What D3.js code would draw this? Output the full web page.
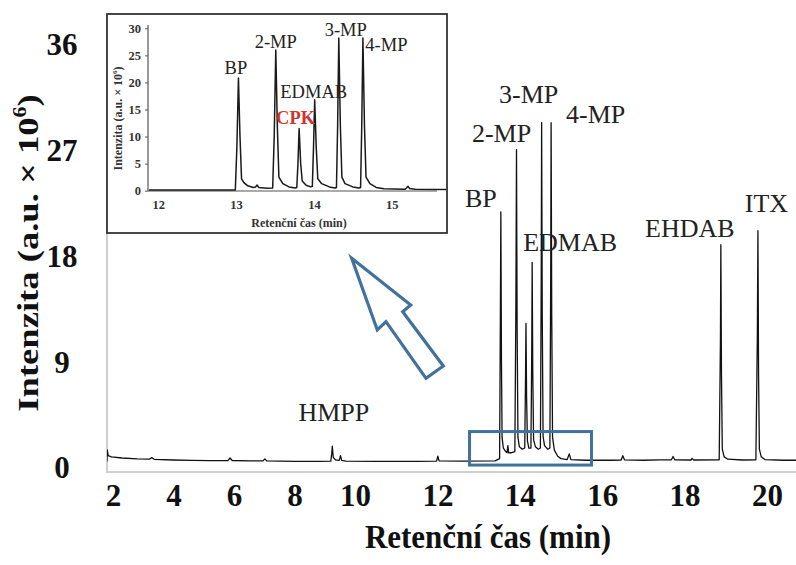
<!DOCTYPE html>
<html>
<head>
<meta charset="utf-8">
<script src="https://cdn.jsdelivr.net/npm/d3@7"></script>
<style>
  html, body { margin: 0; padding: 0; background: #fff; }
  svg { display: block; }
  text { font-family: "Liberation Serif", "Times New Roman", serif; }
</style>
</head>
<body>
<svg id="chart" width="796" height="565"></svg>
<script>
// ---- Full chromatogram: [retention time (min), intensity (a.u. × 10^6)] ----
const mainTrace = [
  [1.80,0.55],[1.81,1.55],[1.84,1.05],[1.95,0.95],[2.3,0.85],[2.8,0.78],[3.2,0.75],[3.28,0.88],[3.36,0.74],
  [4.0,0.68],[4.6,0.65],[5.2,0.62],[5.8,0.62],[5.87,0.85],[5.94,0.64],[6.5,0.6],[6.96,0.6],[7.02,0.78],[7.08,0.6],
  [8.0,0.57],[8.8,0.57],[9.2,0.58],[9.23,1.2],[9.25,1.85],[9.28,0.9],[9.35,0.7],[9.48,0.65],[9.52,1.05],[9.56,0.65],
  [9.7,0.58],[10.5,0.56],[11.5,0.56],[11.98,0.58],[12.01,1.0],[12.04,0.6],[12.6,0.58],[13.4,0.6],
  [13.51,0.8],[13.53,14],[13.54,21.8],[13.555,9],[13.57,2.6],[13.6,1.7],[13.66,1.4],[13.69,1.3],[13.71,1.9],[13.73,1.3],[13.8,1.3],[13.88,1.4],
  [13.905,14],[13.92,27.1],[13.935,12],[13.955,2.6],[13.99,1.8],[14.06,1.6],[14.12,1.7],
  [14.14,8],[14.15,12.3],[14.165,6],[14.185,2.3],[14.22,1.7],[14.27,1.7],
  [14.29,10],[14.30,17.5],[14.315,8],[14.335,2.4],[14.38,1.8],[14.45,1.6],[14.5,1.7],
  [14.52,16],[14.53,29.4],[14.545,13],[14.565,2.7],[14.6,1.9],[14.68,1.6],[14.73,1.7],
  [14.75,16],[14.76,29.4],[14.775,13],[14.795,2.6],[14.84,1.5],[14.92,1.0],[15.0,0.8],[15.15,0.72],[15.2,1.2],[15.24,0.72],
  [15.6,0.66],[16.2,0.66],[16.46,0.68],[16.5,1.05],[16.54,0.7],[17.0,0.66],[17.4,0.7],[17.68,0.7],[17.72,0.98],[17.76,0.7],
  [18.16,0.68],[18.18,0.82],[18.22,0.68],[18.84,0.7],[18.87,11],[18.88,19.0],[18.895,8],[18.915,1.6],[18.96,0.95],[19.05,0.75],
  [19.4,0.68],[19.73,0.7],[19.765,11],[19.78,20.2],[19.795,8],[19.815,1.6],[19.86,0.95],[19.95,0.72],[20.4,0.66],[20.75,0.66]
];

// Named peaks of the full run
const mainPeakNames   = ["HMPP", "BP", "2-MP", "EDMAB", "3-MP", "4-MP", "EHDAB", "ITX"];
const mainPeakTimes   = [9.25, 13.54, 13.92, 14.30, 14.53, 14.76, 18.88, 19.78];
const mainPeakHeights = [1.85, 21.8, 27.1, 17.5, 29.4, 29.4, 19.0, 20.2];

const mainXTicks = [2, 4, 6, 8, 10, 12, 14, 16, 18, 20];
const mainYTicks = [0, 9, 18, 27, 36];

// Window of the run that is enlarged in the inset: [t0, t1] min, [v0, v1] intensity
const zoomTimes = [12.78, 15.74];
const zoomLevels = [0.25, 3.1];

// ---- Enlarged section 12–15.7 min ----
const insetTrace = [
  [11.88,0.12],[12.5,0.12],[12.99,0.15],[13.01,8],[13.03,20.8],[13.05,10],[13.07,2.2],[13.1,1.5],[13.15,0.9],[13.22,0.6],
  [13.25,0.7],[13.27,1.05],[13.29,0.6],[13.4,0.45],
  [13.47,0.5],[13.49,10],[13.51,26.0],[13.53,12],[13.55,2.5],[13.6,1.3],[13.68,0.7],[13.76,0.5],
  [13.78,0.6],[13.795,5],[13.81,11.5],[13.83,5],[13.85,1.8],[13.9,1.0],[13.96,0.7],
  [13.98,0.8],[13.995,8],[14.01,16.8],[14.03,8],[14.05,2.2],[14.1,1.3],[14.2,0.7],[14.27,0.5],
  [14.29,0.6],[14.305,12],[14.32,28.2],[14.34,12],[14.36,2.5],[14.4,1.3],[14.5,0.7],[14.58,0.5],
  [14.6,0.6],[14.615,12],[14.63,28.2],[14.65,12],[14.67,2.5],[14.72,1.3],[14.8,0.6],[14.9,0.35],
  [15.17,0.25],[15.19,0.5],[15.21,0.8],[15.23,0.4],[15.3,0.25],[15.7,0.2]
];

const insetPeakNames   = ["BP", "2-MP", "CPK", "EDMAB", "3-MP", "4-MP"];
const insetPeakTimes   = [13.03, 13.51, 13.81, 14.01, 14.32, 14.63];
const insetPeakHeights = [20.8, 26.0, 11.5, 16.8, 28.2, 28.2];

const insetXTicks = [12, 13, 14, 15];
const insetYTicks = [0, 5, 10, 15, 20, 25, 30];

// ---- Layout ----
const svg = d3.select("#chart");
const frame = { left: 107, right: 796, top: 14, bottom: 472 };

// Time axis is drawn with two linear segments (2–10 and 10–20 min)
const x = d3.scaleLinear().domain([2, 10, 20]).range([113, 355, 767]);
const y = d3.scaleLinear().domain([0, 36]).range([468, 45]);

const axisGray = "#cfcfcf";
const blue = "#41719c";

// frame lines
svg.append("line").attr("x1", frame.left).attr("x2", frame.left)
  .attr("y1", frame.top).attr("y2", frame.bottom + 1)
  .attr("stroke", axisGray).attr("stroke-width", 2);
svg.append("line").attr("x1", frame.left).attr("x2", frame.right)
  .attr("y1", frame.bottom).attr("y2", frame.bottom)
  .attr("stroke", axisGray).attr("stroke-width", 2);

// axes
const xAxis = svg.append("g").attr("transform", `translate(0,${frame.bottom})`)
  .call(d3.axisBottom(x).tickValues(mainXTicks).tickSize(0).tickPadding(12).tickFormat(d3.format("d")));
const yAxis = svg.append("g").attr("transform", `translate(${frame.left},0)`)
  .call(d3.axisLeft(y).tickValues(mainYTicks).tickSize(0).tickFormat(d3.format("d")));
[xAxis, yAxis].forEach(g => {
  g.select(".domain").remove();
  g.selectAll("text").attr("font-family", "Liberation Serif").attr("font-weight", "bold")
    .attr("font-size", 31).attr("fill", "#111");
});
yAxis.selectAll("text").attr("x", -45).attr("text-anchor", "middle");

// axis titles (slightly stretched along their length, as set in the figure)
svg.append("text")
  .attr("transform", "translate(488,548) scale(1,1.12)").attr("text-anchor", "middle")
  .attr("font-weight", "bold").attr("font-size", 31).attr("fill", "#111")
  .text("Retenční čas (min)");

const yTitle = svg.append("text")
  .attr("transform", "translate(38,253) rotate(-90) scale(1.22,1)").attr("text-anchor", "middle")
  .attr("font-weight", "bold").attr("font-size", 30).attr("fill", "#111");
yTitle.append("tspan").text("Intenzita (a.u. × 10");
yTitle.append("tspan").attr("font-size", 18).attr("dy", -12).text("6");
yTitle.append("tspan").attr("dy", 12).text(")");

// chromatogram trace
svg.append("clipPath").attr("id", "clip-main")
  .append("rect").attr("x", frame.left).attr("y", 0)
  .attr("width", frame.right - frame.left).attr("height", frame.bottom);
svg.append("path").datum(mainTrace)
  .attr("clip-path", "url(#clip-main)")
  .attr("fill", "none").attr("stroke", "#111").attr("stroke-width", 1.3)
  .attr("stroke-linejoin", "round")
  .attr("d", d3.line().x(d => x(d[0])).y(d => y(d[1])));

// peak names
const mainLabelShift = {
  "HMPP": [1.5, -25], "BP": [-20, -5], "2-MP": [-15, -8], "EDMAB": [38, -11],
  "3-MP": [-13, -20], "4-MP": [44.5, 0], "EHDAB": [-31, -8], "ITX": [8.5, -19]
};
svg.append("g").selectAll("text").data(mainPeakNames).join("text")
  .attr("x", (d, i) => x(mainPeakTimes[i]) + mainLabelShift[d][0])
  .attr("y", (d, i) => y(mainPeakHeights[i]) + mainLabelShift[d][1])
  .attr("text-anchor", "middle").attr("font-size", 26).attr("fill", "#222")
  .text(d => d);

// enlarged window marker
svg.append("rect")
  .attr("x", x(zoomTimes[0])).attr("y", y(zoomLevels[1]))
  .attr("width", x(zoomTimes[1]) - x(zoomTimes[0]))
  .attr("height", y(zoomLevels[0]) - y(zoomLevels[1]))
  .attr("fill", "none").attr("stroke", blue).attr("stroke-width", 3);

// hollow arrow pointing to the inset
svg.append("polygon")
  .attr("points", "351.7,258.3 410.7,305 402.7,311.7 443.3,366 426,378.3 386,321.7 377.3,330")
  .attr("fill", "#fff").attr("stroke", blue).attr("stroke-width", 3.2).attr("stroke-linejoin", "miter");

// ---- Inset ----
const inset = svg.append("g");
inset.append("rect").attr("x", 107).attr("y", 14).attr("width", 340).attr("height", 219)
  .attr("fill", "#fff").attr("stroke", "#333").attr("stroke-width", 1.8);

const ix = d3.scaleLinear().domain([12, 15]).range([158.3, 391.7]);
const iy = d3.scaleLinear().domain([0, 30]).range([190.7, 28.3]);
const iFrame = { left: 148, right: 437, bottom: 191 };

inset.append("line").attr("x1", iFrame.left).attr("x2", iFrame.left).attr("y1", 25).attr("y2", iFrame.bottom)
  .attr("stroke", "#555").attr("stroke-width", 1.2);
inset.append("line").attr("x1", iFrame.left).attr("x2", iFrame.right).attr("y1", iFrame.bottom).attr("y2", iFrame.bottom)
  .attr("stroke", "#555").attr("stroke-width", 1.2);

const ixAxis = inset.append("g").attr("transform", `translate(0,${iFrame.bottom})`)
  .call(d3.axisBottom(ix).tickValues(insetXTicks).tickSize(0).tickPadding(9).tickFormat(d3.format("d")));
const iyAxis = inset.append("g").attr("transform", `translate(${iFrame.left},0)`)
  .call(d3.axisLeft(iy).tickValues(insetYTicks).tickSize(3).tickPadding(4).tickFormat(d3.format("d")));
[ixAxis, iyAxis].forEach(g => {
  g.select(".domain").remove();
  g.selectAll("line").attr("stroke", "#555");
  g.selectAll("text").attr("font-family", "Liberation Serif").attr("font-weight", "bold")
    .attr("font-size", 12.5).attr("fill", "#333");
});

inset.append("text").attr("x", 299).attr("y", 227).attr("text-anchor", "middle")
  .attr("font-weight", "bold").attr("font-size", 12).attr("fill", "#333")
  .text("Retenční čas (min)");
const iyTitle = inset.append("text")
  .attr("transform", "translate(122,118.5) rotate(-90)").attr("text-anchor", "middle")
  .attr("font-weight", "bold").attr("font-size", 12).attr("fill", "#333");
iyTitle.append("tspan").text("Intenzita (a.u. × 10");
iyTitle.append("tspan").attr("font-size", 7).attr("dy", -5).text("6");
iyTitle.append("tspan").attr("dy", 5).text(")");

inset.append("path").datum(insetTrace)
  .attr("fill", "none").attr("stroke", "#1a1a1a").attr("stroke-width", 1.5)
  .attr("stroke-linejoin", "round")
  .attr("d", d3.line().x(d => ix(d[0])).y(d => iy(d[1])));

const insetLabelShift = {
  "BP": [-2.5, -4], "2-MP": [0, -1.5], "CPK": [-3.5, -4], "EDMAB": [-1, -1.5],
  "3-MP": [7, -2], "4-MP": [23.5, 13]
};
inset.append("g").selectAll("text").data(insetPeakNames).join("text")
  .attr("x", (d, i) => ix(insetPeakTimes[i]) + insetLabelShift[d][0])
  .attr("y", (d, i) => iy(insetPeakHeights[i]) + insetLabelShift[d][1])
  .attr("text-anchor", "middle").attr("font-size", 18.5)
  .attr("font-weight", d => d === "CPK" ? "bold" : "normal")
  .attr("fill", d => d === "CPK" ? "#d0342c" : "#222")
  .text(d => d);
</script>
</body>
</html>
